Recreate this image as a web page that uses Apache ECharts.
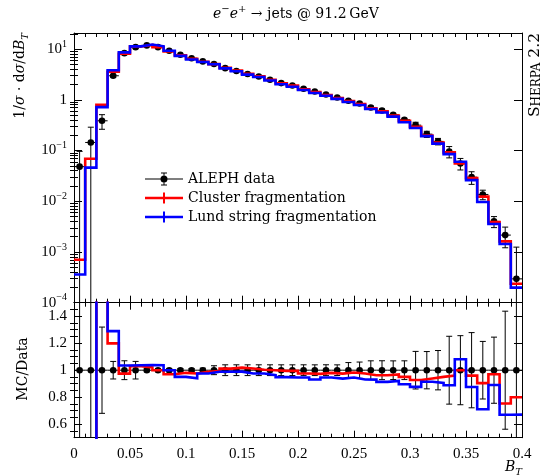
<!DOCTYPE html>
<html>
<head>
<meta charset="utf-8">
<script src="https://cdn.jsdelivr.net/npm/echarts@6/dist/echarts.min.js"></script>
<style>
html, body { margin: 0; padding: 0; background: #fff; }
#chart { width: 540px; height: 476px; }
</style>
</head>
<body>
<div id="chart"></div>
<script>
var SERIF = 'DejaVu Serif';
var NUM = 'Liberation Serif';

// bin edges of B_T
var edges = [0, 0.01, 0.02, 0.03, 0.04, 0.05, 0.06, 0.07, 0.08, 0.09, 0.1,
  0.11, 0.12, 0.13, 0.14, 0.15, 0.16, 0.17, 0.18, 0.19, 0.2,
  0.21, 0.22, 0.23, 0.24, 0.25, 0.26, 0.27, 0.28, 0.29, 0.3,
  0.31, 0.32, 0.33, 0.34, 0.35, 0.36, 0.37, 0.38, 0.39, 0.4];

// ALEPH data
var aleph = [0.048, 0.144, 0.385, 2.97, 8.3, 10.9, 11.8, 10.9, 9.25, 7.7,
  6.6, 5.7, 5.06, 4.2, 3.68, 3.21, 2.88, 2.48, 2.13, 1.91,
  1.65, 1.46, 1.27, 1.11, 0.955, 0.845, 0.705, 0.615, 0.506, 0.403,
  0.316, 0.21, 0.151, 0.0955, 0.0555, 0.0298, 0.0136, 0.0040, 0.00215, 0.000295];
var alephErr = [0.048, 0.144, 0.123, 0.193, 0.58, 0.71, 0.14, 0.13, 0.11, 0.09,
  0.08, 0.085, 0.167, 0.168, 0.147, 0.128, 0.115, 0.099, 0.085, 0.076,
  0.066, 0.058, 0.051, 0.044, 0.054, 0.051, 0.049, 0.043, 0.035, 0.028,
  0.044, 0.029, 0.022, 0.024, 0.0142, 0.0083, 0.0029, 0.00098, 0.00094, 0.00095];

// Sherpa predictions
var cluster = [0.00070, 0.0686, 0.80, 3.56, 8.09, 11.23, 12.04, 10.9, 8.97, 7.55,
  6.44, 5.63, 5.03, 4.25, 3.75, 3.25, 2.89, 2.48, 2.12, 1.90,
  1.61, 1.42, 1.245, 1.082, 0.939, 0.824, 0.679, 0.592, 0.490, 0.383,
  0.293, 0.197, 0.1435, 0.0917, 0.0555, 0.0286, 0.0123, 0.00388, 0.00162, 0.000236];
var lund = [0.00036, 0.046, 0.716, 3.83, 8.59, 11.3, 12.24, 11.3, 9.25, 7.32,
  6.2, 5.56, 5.0, 4.15, 3.64, 3.13, 2.81, 2.39, 2.02, 1.807,
  1.561, 1.359, 1.201, 1.041, 0.903, 0.787, 0.656, 0.562, 0.466, 0.361,
  0.277, 0.192, 0.1368, 0.0849, 0.060, 0.0261, 0.00966, 0.00356, 0.00144, 0.000198];

var yMin = 1e-4, yMax = 20.7;
var ratioTicks = [0.6, 0.8, 1, 1.2, 1.4];
var ratioMinor = [0.55, 0.65, 0.7, 0.75, 0.85, 0.9, 0.95, 1.05, 1.1, 1.15, 1.25, 1.3, 1.35, 1.45];
var decades = [1e-4, 1e-3, 1e-2, 1e-1, 1, 10];
var multipliers = [2, 3, 4, 5, 6, 7, 8, 9];

// minor ticks of the log axis, placed on a helper axis that runs in log10 units
var logMinorExp = [];
decades.forEach(function (d) {
  multipliers.forEach(function (m) {
    if (m * d < yMax) logMinorExp.push(Math.log10(m * d));
  });
});

var xLo = edges[0], xHi = edges[edges.length - 1];

function steps(vals, den) {
  var out = [];
  for (var i = 0; i < vals.length; i++) {
    var v = den ? vals[i] / den[i] : vals[i];
    out.push([edges[i], v], [edges[i + 1], v]);
  }
  return out;
}

function points(ratio) {
  return aleph.map(function (v, i) {
    return [(edges[i] + edges[i + 1]) / 2, ratio ? 1 : v, ratio ? alephErr[i] / v : alephErr[i], edges[i], edges[i + 1]];
  });
}

function seg(x1, y1, x2, y2) {
  return { type: 'line', shape: { x1: x1, y1: y1, x2: x2, y2: y2 }, style: { stroke: '#000', lineWidth: 1 } };
}

function drawPoint(params, api) {
  var cs = params.coordSys;
  var top = cs.y, bottom = cs.y + cs.height;
  var x = api.value(0), y = api.value(1), e = api.value(2);
  var c = api.coord([x, y]);
  var l = api.coord([api.value(3), y]);
  var r = api.coord([api.value(4), y]);
  var up = api.coord([x, y + e])[1];
  var dn = api.coord([x, y - e > 0 ? y - e : 1e-12])[1];
  var kids = [];
  kids.push(seg(c[0], Math.max(up, top), c[0], Math.min(dn, bottom)));
  if (up >= top) kids.push(seg(c[0] - 3, up, c[0] + 3, up));
  if (dn <= bottom) kids.push(seg(c[0] - 3, dn, c[0] + 3, dn));
  kids.push(seg(l[0], c[1], r[0], c[1]));
  kids.push({ type: 'circle', shape: { cx: c[0], cy: c[1], r: 3.3 }, style: { fill: '#000' } });
  return { type: 'group', children: kids };
}

var black = { color: '#000', width: 1 };

function xAx(grid, pos, labels) {
  return {
    type: 'value', gridIndex: grid, position: pos, min: xLo, max: xHi, interval: 0.05,
    axisLine: { show: true, onZero: false, lineStyle: black },
    axisTick: { show: true, inside: true, length: 7, lineStyle: black },
    minorTick: { show: true, splitNumber: 5, length: 4, lineStyle: black },
    splitLine: { show: false },
    minorSplitLine: { show: false },
    axisLabel: { show: labels, margin: 9, color: '#000', fontFamily: NUM, fontSize: 15 }
  };
}

function logAx(pos, labels) {
  return {
    type: 'log', logBase: 10, gridIndex: 0, position: pos, min: yMin, max: yMax,
    axisLine: { show: true, onZero: false, lineStyle: black },
    axisTick: { show: true, inside: true, length: 8, lineStyle: black },
    splitLine: { show: false },
    axisLabel: {
      show: labels, margin: 7, color: '#000',
      formatter: function (v) {
        var lg = Math.log10(v);
        var k = Math.round(lg);
        if (Math.abs(lg - k) > 1e-6) return '';
        if (k === 0) return '{a|1}';
        return '{a|10}{e|' + (k < 0 ? '\u2212' + (-k) : k) + '}';
      },
      rich: {
        a: { fontFamily: NUM, fontSize: 15, lineHeight: 20, color: '#000' },
        e: { fontFamily: NUM, fontSize: 10, lineHeight: 11, verticalAlign: 'top', color: '#000' }
      }
    }
  };
}

function ratioAx(pos, labels) {
  return {
    type: 'value', gridIndex: 1, position: pos, min: 0.5, max: 1.5,
    axisLine: { show: true, onZero: false, lineStyle: black },
    axisTick: { show: true, inside: true, length: 8, customValues: ratioTicks, lineStyle: black },
    splitLine: { show: false },
    axisLabel: { show: labels, margin: 7, customValues: ratioTicks, color: '#000', fontFamily: NUM, fontSize: 15 }
  };
}

// tick-only helper axis
function minorAx(grid, pos, lo, hi, vals) {
  return {
    type: 'value', gridIndex: grid, position: pos, min: lo, max: hi,
    axisLine: { show: false },
    axisTick: { show: true, inside: true, length: 4, customValues: vals, lineStyle: black },
    splitLine: { show: false },
    axisLabel: { show: false }
  };
}

function stepLine(name, color, xi, yi, data) {
  return {
    name: name, type: 'line', xAxisIndex: xi, yAxisIndex: yi, data: data,
    symbol: 'none', color: color, silent: true, clip: true,
    lineStyle: { color: color, width: 2.6, join: 'miter', cap: 'butt' }
  };
}

var txt = { fontFamily: SERIF, fontSize: 14, lineHeight: 20, fill: '#000' };
var txtI = { fontFamily: SERIF, fontSize: 14, lineHeight: 20, fill: '#000', fontStyle: 'italic' };
var txtSup = { fontFamily: SERIF, fontSize: 10, lineHeight: 10, verticalAlign: 'top', fill: '#000' };
var txtSub = { fontFamily: SERIF, fontSize: 10, lineHeight: 10, verticalAlign: 'bottom', fill: '#000', fontStyle: 'italic' };

var alephIcon = 'path://M0,6.5H38V7.5H0Z M18.5,1H19.5V13H18.5Z M16,0.5H22V1.5H16Z M16,12.5H22V13.5H16Z M22.5,7A3.5,3.5,0,1,1,15.5,7A3.5,3.5,0,1,1,22.5,7Z';
var crossIcon = 'path://M0,5.7H38V8.3H0Z M18,1.5H20V12.5H18Z';

var chart = echarts.init(document.getElementById('chart'));
chart.setOption({
  animation: false,
  backgroundColor: '#fff',
  grid: [
    { left: 74, top: 33, width: 448, height: 269.7, outerBoundsMode: 'none' },
    { left: 74, top: 302.7, width: 448, height: 135, outerBoundsMode: 'none' }
  ],
  xAxis: [xAx(0, 'bottom', false), xAx(0, 'top', false), xAx(1, 'bottom', true), xAx(1, 'top', false)],
  yAxis: [
    logAx('left', true), logAx('right', false), ratioAx('left', true), ratioAx('right', false),
    minorAx(0, 'left', Math.log10(yMin), Math.log10(yMax), logMinorExp),
    minorAx(0, 'right', Math.log10(yMin), Math.log10(yMax), logMinorExp),
    minorAx(1, 'left', 0.5, 1.5, ratioMinor),
    minorAx(1, 'right', 0.5, 1.5, ratioMinor)
  ],
  legend: {
    left: 140, top: 167, orient: 'vertical', itemWidth: 38, itemHeight: 14, itemGap: 5,
    selectedMode: false, itemStyle: { borderWidth: 0 },
    textStyle: { fontFamily: SERIF, fontSize: 14, color: '#000' },
    data: [
      { name: 'ALEPH data', icon: alephIcon },
      { name: 'Cluster fragmentation', icon: crossIcon },
      { name: 'Lund string fragmentation', icon: crossIcon }
    ]
  },
  graphic: [
    { type: 'text', x: 296, y: 14, style: {
      text: '{i|e}{s|\u2212}{i|e}{s|+}{n| \u2192 jets @ 91.2\u2009GeV}', align: 'center', verticalAlign: 'middle',
      rich: { n: txt, i: txtI, s: txtSup } } },
    { type: 'text', x: 20, y: 33, rotation: Math.PI / 2, style: {
      text: '{n|1/}{i|\u03c3}{n| \u00b7 d}{i|\u03c3}{n|/d}{i|B}{b|T}', align: 'right', verticalAlign: 'middle',
      rich: { n: txt, i: txtI, b: txtSub } } },
    { type: 'text', x: 23, y: 369, rotation: Math.PI / 2, style: {
      text: 'MC/Data', align: 'center', verticalAlign: 'middle', font: '14px "DejaVu Serif"', fill: '#000' } },
    { type: 'text', x: 522, y: 467, style: {
      text: '{i|B}{b|T}', align: 'right', verticalAlign: 'middle', rich: { i: txtI, b: txtSub } } },
    { type: 'text', x: 535, y: 33, rotation: Math.PI / 2, style: {
      text: '{a|S}{b|HERPA}{a| 2.2}', align: 'right', verticalAlign: 'middle',
      rich: {
        a: { fontFamily: SERIF, fontSize: 15.5, lineHeight: 15, verticalAlign: 'bottom', fill: '#000' },
        b: { fontFamily: SERIF, fontSize: 12, lineHeight: 12, verticalAlign: 'bottom', fill: '#000' }
      } } }
  ],
  series: [
    stepLine('Cluster fragmentation', '#ff0000', 0, 0, steps(cluster)),
    stepLine('Lund string fragmentation', '#0000ff', 0, 0, steps(lund)),
    { name: 'ALEPH data', type: 'custom', xAxisIndex: 0, yAxisIndex: 0, color: '#000', itemStyle: { color: '#000' },
      silent: true, data: points(false), renderItem: drawPoint },
    stepLine('Cluster ratio', '#ff0000', 2, 2, steps(cluster, aleph)),
    stepLine('Lund ratio', '#0000ff', 2, 2, steps(lund, aleph)),
    { name: 'ALEPH ratio', type: 'custom', xAxisIndex: 2, yAxisIndex: 2, silent: true,
      data: points(true), renderItem: drawPoint }
  ]
});
</script>
</body>
</html>
